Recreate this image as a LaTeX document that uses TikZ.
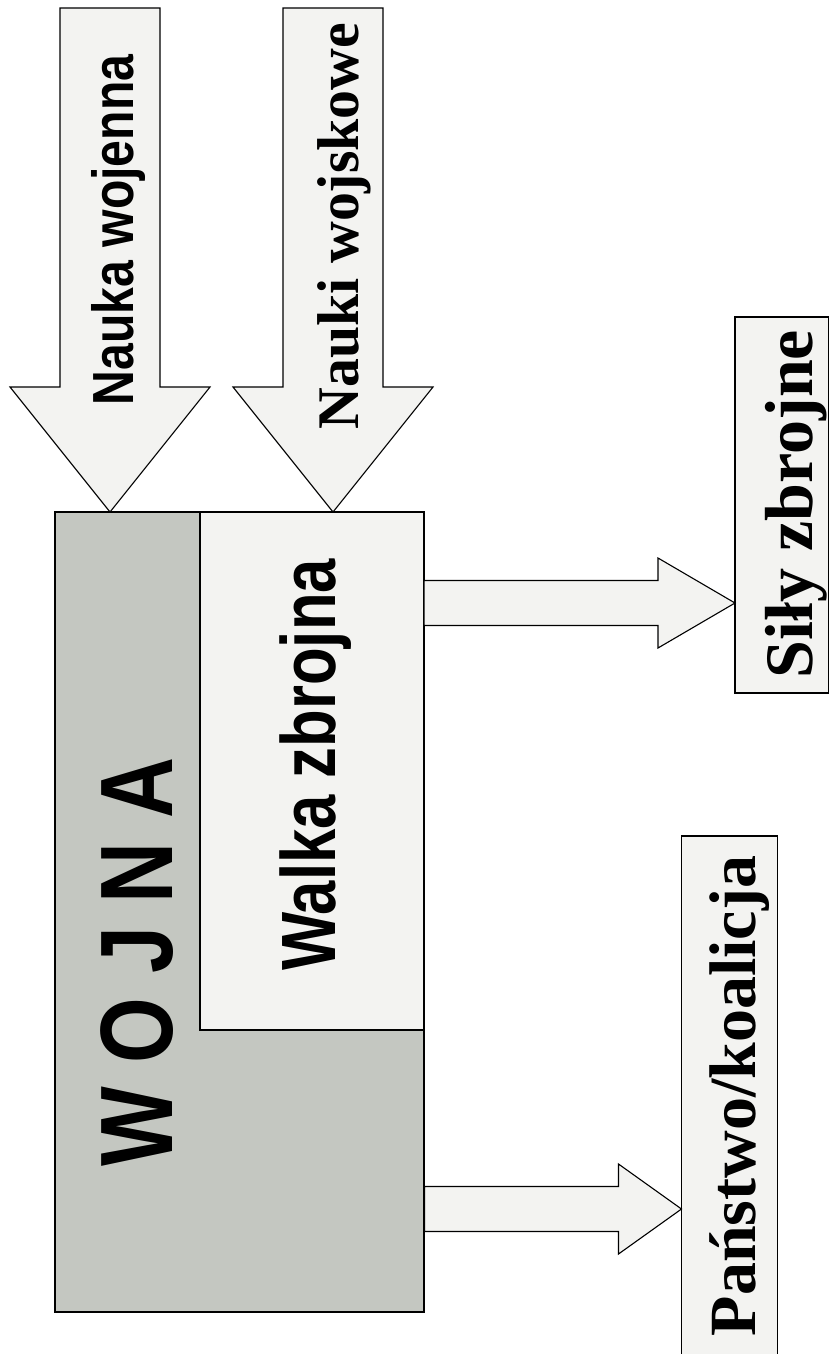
\documentclass[tikz,border=0pt]{standalone}
\usepackage{fontspec}
\setmainfont{Liberation Serif}
\newfontfamily\sansbf{Liberation Sans}
\usetikzlibrary{calc}
\definecolor{darkgr}{RGB}{196,199,193}
\definecolor{lightgr}{RGB}{243,243,241}
\begin{document}
\begin{tikzpicture}[x=1pt,y=-1pt,
  boxline/.style={draw=black,line width=1.1pt},
  panel/.style={boxline,inner sep=0pt,outer sep=0pt},
  blockarrow/.style={boxline,fill=lightgr,line join=miter},
  sanslabel/.style={inner sep=0pt,anchor=base,rotate=90,font=\sansbf\bfseries},
  seriflabel/.style={inner sep=0pt,anchor=base,rotate=90,font=\rmfamily\bfseries}]
\useasboundingbox (0,0) rectangle (830,1354);
\clip (0,0) rectangle (830,1354);
\fill[white] (0,0) rectangle (830,1354);
% main boxes
\node[panel,fill=darkgr,minimum width=369pt,minimum height=800pt] (wojna) at (239.5,912) {};
\node[panel,fill=lightgr,minimum width=224pt,minimum height=518pt,anchor=north east] (walka) at (wojna.north east) {};
\node[panel,fill=lightgr,minimum width=93.5pt,minimum height=376pt,anchor=north west] (sily) at (735,317) {};
\node[panel,fill=lightgr,minimum width=96pt,minimum height=560pt,anchor=north west] (panstwo) at (681.5,836) {};
% tips of the block arrows
\coordinate (t1) at ($(wojna.north west)+(55,0)$);
\coordinate (t2) at ($(walka.north west)+(133,0)$);
\coordinate (s1) at ($(sily.south west)+(0,-90)$);
\coordinate (p1) at ($(panstwo.north west)+(0,373)$);
% downward block arrows
\draw[blockarrow] ($(t1)+(-50,-504)$) -- ($(t1)+(-50,-125)$) -- ($(t1)+(-100,-125)$) -- (t1)
  -- ($(t1)+(100,-125)$) -- ($(t1)+(50,-125)$) -- ($(t1)+(50,-504)$) -- cycle;
\draw[blockarrow] ($(t2)+(-50,-504)$) -- ($(t2)+(-50,-125)$) -- ($(t2)+(-100,-125)$) -- (t2)
  -- ($(t2)+(100,-125)$) -- ($(t2)+(50,-125)$) -- ($(t2)+(50,-504)$) -- cycle;
% rightward block arrows
\draw[blockarrow] ($(s1)+(-311,-22.5)$) -- ($(s1)+(-77,-22.5)$) -- ($(s1)+(-77,-45)$) -- (s1)
  -- ($(s1)+(-77,45)$) -- ($(s1)+(-77,22.5)$) -- ($(s1)+(-311,22.5)$) -- cycle;
\draw[blockarrow] ($(p1)+(-257,-22.5)$) -- ($(p1)+(-63,-22.5)$) -- ($(p1)+(-63,-45)$) -- (p1)
  -- ($(p1)+(-63,45)$) -- ($(p1)+(-63,22.5)$) -- ($(p1)+(-257,22.5)$) -- cycle;
% labels
\node[sanslabel] (lnw) at (133,230) {\fontsize{58}{60}\selectfont\scalebox{0.83}[1]{Nauka wojenna}};
\node[seriflabel] (lnk) at (358,226) {\fontsize{59}{61}\selectfont\scalebox{0.98}[1]{Nauki wojskowe}};
\node[sanslabel] (lwo) at (172,962) {\fontsize{103}{105}\selectfont\scalebox{0.82}[1]{W O J N A}};
\node[sanslabel] (lwz) at (335,765) {\fontsize{77}{79}\selectfont\scalebox{0.8}[1]{Walka zbrojna}};
\node[seriflabel] (lsz) at (812,504) {\fontsize{68}{70}\selectfont Siły zbrojne};
\node[seriflabel] (lpk) at (755,1096) {\fontsize{66}{68}\selectfont Państwo/koalicja};
\end{tikzpicture}
\end{document}
